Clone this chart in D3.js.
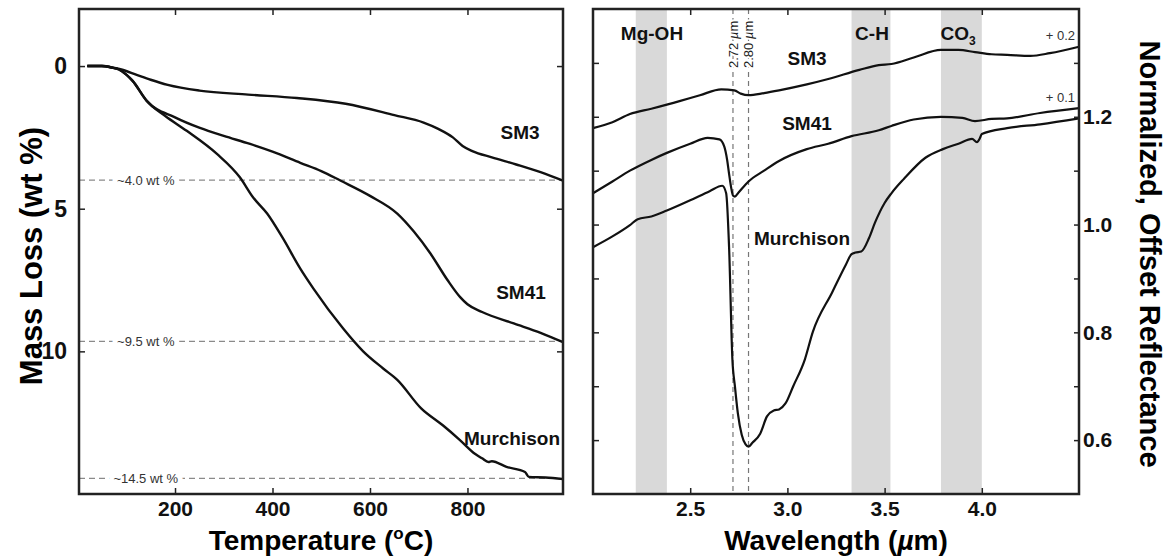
<!DOCTYPE html>
<html>
<head>
<meta charset="utf-8">
<script src="https://cdn.jsdelivr.net/npm/d3@7"></script>
<style>
body{margin:0;background:#fff;}
text{font-family:"Liberation Sans", Arial, Helvetica, sans-serif;}
</style>
</head>
<body>
<div id="chart-area"></div>
<script>
// ---- left panel: mass loss vs temperature ----
var sm3Temp = [20,50,70,90,120,150,185,250,350,450,550,650,710,740,770,790,810,850,900,950,996];
var sm3Loss = [0,0,0.05,0.12,0.3,0.48,0.66,0.86,1.0,1.12,1.32,1.72,1.98,2.2,2.5,2.8,2.98,3.2,3.45,3.72,4.02];

var sm41Temp = [20,50,70,85,100,113,142,200,251,300,354,400,457,500,540,600,656,690,724,759,785,800,830,895,950,996];
var sm41Loss = [0,0,0.05,0.12,0.3,0.52,1.22,1.8,2.17,2.45,2.73,3.0,3.39,3.68,4.02,4.55,5.17,5.8,6.57,7.5,8.1,8.35,8.62,9.02,9.35,9.68];

var murchTemp = [20,50,70,85,100,113,142,180,224,286,333,360,389,420,457,484,545,586,627,656,705,750,784,816,830,843,850,880,918,926,960,996];
var murchLoss = [0,0,0.05,0.12,0.3,0.52,1.22,1.75,2.27,3.08,3.9,4.6,5.17,6.0,7.1,7.8,9.2,10.0,10.6,11.0,12.0,12.6,13.1,13.6,13.75,13.88,13.85,14.05,14.23,14.4,14.42,14.48];

var tempTicks = [200,400,600,800];
var lossTicks = [0,5,10];
var lossLevels = [4.0,9.65,14.45];
var lossLevelLabels = ["~4.0 wt %","~9.5 wt %","~14.5 wt %"];

// ---- right panel: reflectance spectra ----
var sm3Wave = [2.0,2.1,2.19,2.3,2.445,2.55,2.66,2.727,2.76,2.8,2.88,2.957,3.1,3.21,3.37,3.47,3.535,3.65,3.79,3.88,3.965,4.05,4.13,4.25,4.35,4.5];
var sm3Refl = [1.179,1.19,1.205,1.215,1.229,1.24,1.251,1.249,1.243,1.24,1.244,1.249,1.26,1.27,1.287,1.296,1.298,1.31,1.324,1.324,1.32,1.316,1.315,1.313,1.318,1.33];

var sm41Wave = [2.0,2.1,2.19,2.3,2.38,2.5,2.59,2.65,2.675,2.69,2.7,2.71,2.72,2.73,2.75,2.8,2.88,2.957,3.1,3.21,3.33,3.47,3.535,3.65,3.79,3.9,3.965,4.05,4.13,4.3,4.5];
var sm41Refl = [1.058,1.08,1.1,1.12,1.133,1.15,1.161,1.158,1.145,1.12,1.094,1.07,1.054,1.052,1.06,1.08,1.1,1.118,1.14,1.15,1.164,1.175,1.183,1.195,1.2,1.198,1.192,1.196,1.197,1.207,1.216];

var murchWave = [2.0,2.1,2.19,2.23,2.3,2.38,2.5,2.6,2.665,2.685,2.7,2.717,2.73,2.745,2.765,2.785,2.8,2.82,2.86,2.895,2.93,2.957,2.99,3.03,3.09,3.13,3.23,3.3,3.33,3.35,3.38,3.42,3.45,3.5,3.535,3.6,3.71,3.8,3.88,3.95,3.975,3.99,4.0,4.13,4.3,4.5];
var murchRefl = [0.958,0.978,0.999,1.01,1.015,1.026,1.045,1.062,1.072,1.058,0.958,0.75,0.7,0.65,0.61,0.592,0.588,0.595,0.612,0.644,0.655,0.657,0.668,0.7,0.75,0.8,0.874,0.925,0.945,0.948,0.95,0.975,1.003,1.04,1.058,1.085,1.124,1.14,1.15,1.159,1.153,1.16,1.168,1.179,1.186,1.197];

var waveTicks = [2.5,3.0,3.5,4.0];
var reflTicks = [0.6,0.7,0.8,0.9,1.0,1.1,1.2,1.3];
var reflLabelTicks = [0.6,0.8,1.0,1.2];
var bandNames = ["Mg-OH","C-H","CO"];
var bandStart = [2.22,3.33,3.79];
var bandEnd = [2.38,3.53,4.0];
var featureWave = [2.72,2.80];
var featureLabels = ["2.72 ","2.80 "];

var width = 1171, height = 556;
var font = '"Liberation Sans", Arial, Helvetica, sans-serif';

var svg = d3.select('#chart-area').append('svg')
    .attr('width', width)
    .attr('height', height);

// scales
var x1 = d3.scaleLinear().domain([3,996]).range([79,563]);
var y1 = d3.scaleLinear().domain([-2,15]).range([9,494]);
var x2 = d3.scaleLinear().domain([2.0,4.5]).range([593,1079]);
var y2 = d3.scaleLinear().domain([0.5,1.4]).range([494,9]);

function zip(xs, ys){
    return xs.map(function(d,i){ return [d, ys[i]]; });
}

// grey absorption bands
svg.selectAll("rect.band")
    .data(bandStart)
    .enter()
    .append("rect")
    .attr("class","band")
    .attr("x", function(d){ return x2(d); })
    .attr("y", y2(1.4))
    .attr("width", function(d,i){ return x2(bandEnd[i]) - x2(d); })
    .attr("height", y2(0.5) - y2(1.4))
    .attr("fill", "#d9d9d9");

// dashed level lines (left)
svg.selectAll("line.level")
    .data(lossLevels)
    .enter()
    .append("line")
    .attr("class","level")
    .attr("x1", x1(3)).attr("x2", x1(996))
    .attr("y1", function(d){ return y1(d); })
    .attr("y2", function(d){ return y1(d); })
    .attr("stroke", "#8a8a8a")
    .attr("stroke-width", 1.2)
    .style("stroke-dasharray", "6,4");

svg.selectAll("text.level")
    .data(lossLevels)
    .enter()
    .append("text")
    .attr("class","level")
    .attr("x", x1(140))
    .attr("y", function(d){ return y1(d); })
    .attr("dy", "0.35em")
    .attr("text-anchor", "middle")
    .attr("font-size", "13px")
    .attr("fill", "#333")
    .attr("stroke", "#fff")
    .attr("stroke-width", 10)
    .attr("paint-order", "stroke")
    .text(function(d,i){ return lossLevelLabels[i]; });

// dashed feature lines (right)
svg.selectAll("line.feature")
    .data(featureWave)
    .enter()
    .append("line")
    .attr("class","feature")
    .attr("x1", function(d){ return x2(d); })
    .attr("x2", function(d){ return x2(d); })
    .attr("y1", y2(1.4)).attr("y2", y2(0.5))
    .attr("stroke", "#777")
    .attr("stroke-width", 1.2)
    .style("stroke-dasharray", "5,4");

var feat = svg.selectAll("text.feature")
    .data(featureWave)
    .enter()
    .append("text")
    .attr("class","feature")
    .attr("transform", function(d){ return "translate(" + x2(d) + ",68) rotate(-90)"; })
    .attr("dy", "0.35em")
    .attr("font-size", "13px")
    .attr("fill", "#222")
    .attr("stroke", "#fff")
    .attr("stroke-width", 4)
    .attr("paint-order", "stroke");
feat.append("tspan").text(function(d,i){ return featureLabels[i]; });
feat.append("tspan").attr("font-style","italic").text("\u00b5");
feat.append("tspan").text("m");

// curves
var line1 = d3.line()
    .x(function(d){ return x1(d[0]); })
    .y(function(d){ return y1(d[1]); })
    .curve(d3.curveMonotoneX);
var line2 = d3.line()
    .x(function(d){ return x2(d[0]); })
    .y(function(d){ return y2(d[1]); })
    .curve(d3.curveMonotoneX);

[zip(sm3Temp,sm3Loss), zip(sm41Temp,sm41Loss), zip(murchTemp,murchLoss)].forEach(function(s){
    svg.append("path")
        .attr("d", line1(s))
        .attr("fill","none")
        .attr("stroke","#111")
        .attr("stroke-width",2.4);
});
[zip(sm3Wave,sm3Refl), zip(sm41Wave,sm41Refl), zip(murchWave,murchRefl)].forEach(function(s){
    svg.append("path")
        .attr("d", line2(s))
        .attr("fill","none")
        .attr("stroke","#111")
        .attr("stroke-width",2.2);
});

// axes
function styleAxis(g){
    g.select(".domain").remove();
    g.selectAll(".tick line").attr("stroke","#222").attr("stroke-width",1.5);
    g.selectAll("text")
        .attr("font-family", font)
        .attr("font-size","21px")
        .attr("font-weight","bold")
        .attr("fill","#111");
}

svg.append("g")
    .attr("transform","translate(0,494)")
    .call(d3.axisBottom(x1).tickValues(tempTicks).tickSize(-6).tickPadding(7))
    .call(styleAxis);
svg.append("g")
    .attr("transform","translate(0,9)")
    .call(d3.axisTop(x1).tickValues(tempTicks).tickSize(-6).tickFormat(""))
    .call(styleAxis);
svg.append("g")
    .attr("transform","translate(79,0)")
    .call(d3.axisLeft(y1).tickValues(lossTicks).tickSize(-6).tickPadding(12))
    .call(styleAxis)
    .selectAll("text").attr("font-size","23px");
svg.append("g")
    .attr("transform","translate(563,0)")
    .call(d3.axisRight(y1).tickValues(lossTicks).tickSize(-6).tickFormat(""))
    .call(styleAxis);

svg.append("g")
    .attr("transform","translate(0,494)")
    .call(d3.axisBottom(x2).tickValues(waveTicks).tickSize(-6).tickPadding(7).tickFormat(d3.format(".1f")))
    .call(styleAxis);
svg.append("g")
    .attr("transform","translate(0,9)")
    .call(d3.axisTop(x2).tickValues(waveTicks).tickSize(-6).tickFormat(""))
    .call(styleAxis);
svg.append("g")
    .attr("transform","translate(593,0)")
    .call(d3.axisLeft(y2).tickValues(reflTicks).tickSize(-6).tickFormat(""))
    .call(styleAxis);
svg.append("g")
    .attr("transform","translate(1079,0)")
    .call(d3.axisRight(y2).tickValues(reflTicks).tickSize(-5).tickPadding(4)
        .tickFormat(function(d){
            return reflLabelTicks.some(function(v){ return Math.abs(v-d) < 1e-6; }) ? d3.format(".1f")(d) : "";
        }))
    .call(styleAxis);

// frames
[[x1,y1],[x2,y2]].forEach(function(p){
    var xs = p[0].range(), ys = p[1].range();
    svg.append("rect")
        .attr("x", xs[0]).attr("y", Math.min(ys[0],ys[1]))
        .attr("width", xs[1]-xs[0])
        .attr("height", Math.abs(ys[0]-ys[1]))
        .attr("fill","none")
        .attr("stroke","#222")
        .attr("stroke-width",2.5);
});

// series labels
function label(x, y, txt, size){
    return svg.append("text")
        .attr("x", x).attr("y", y)
        .attr("dy","0.35em")
        .attr("text-anchor","middle")
        .attr("font-size", size)
        .attr("font-weight","bold")
        .attr("fill","#111")
        .text(txt);
}
label(520, 132, "SM3", "19px");
label(521, 292, "SM41", "19px");
label(512, 438, "Murchison", "19px");
label(807, 58, "SM3", "19px");
label(807, 123, "SM41", "19px");
label(802, 238, "Murchison", "19px");

// band labels
label(652, 33, bandNames[0], "19px");
label(872, 33, bandNames[1], "19px");
var co = label(958, 33, bandNames[2], "19px");
co.append("tspan").attr("font-size","12px").attr("dy","5").text("3");

// offsets
svg.append("text").attr("x",1075).attr("y",35).attr("dy","0.35em")
    .attr("text-anchor","end").attr("font-size","13px").attr("fill","#333").text("+ 0.2");
svg.append("text").attr("x",1075).attr("y",97).attr("dy","0.35em")
    .attr("text-anchor","end").attr("font-size","13px").attr("fill","#333").text("+ 0.1");

// axis titles
svg.append("text")
    .attr("transform","translate(31,256) rotate(-90)")
    .attr("dy","0.35em")
    .attr("text-anchor","middle")
    .attr("font-size","31px")
    .attr("font-weight","bold")
    .text("Mass Loss (wt %)");

var tt = svg.append("text")
    .attr("x", 321).attr("y", 550)
    .attr("text-anchor","middle")
    .attr("font-size","28px")
    .attr("font-weight","bold");
tt.append("tspan").text("Temperature (");
tt.append("tspan").attr("font-size","17px").attr("dy","-11").text("o");
tt.append("tspan").attr("dy","11").text("C)");

var wt = svg.append("text")
    .attr("x", 836).attr("y", 550)
    .attr("text-anchor","middle")
    .attr("font-size","28px")
    .attr("font-weight","bold");
wt.append("tspan").text("Wavelength (");
wt.append("tspan").attr("font-style","italic").text("\u00b5");
wt.append("tspan").text("m)");

svg.append("text")
    .attr("transform","translate(1150,254) rotate(90)")
    .attr("dy","0.35em")
    .attr("text-anchor","middle")
    .attr("font-size","29px")
    .attr("font-weight","bold")
    .text("Normalized, Offset Reflectance");
</script>
</body>
</html>
